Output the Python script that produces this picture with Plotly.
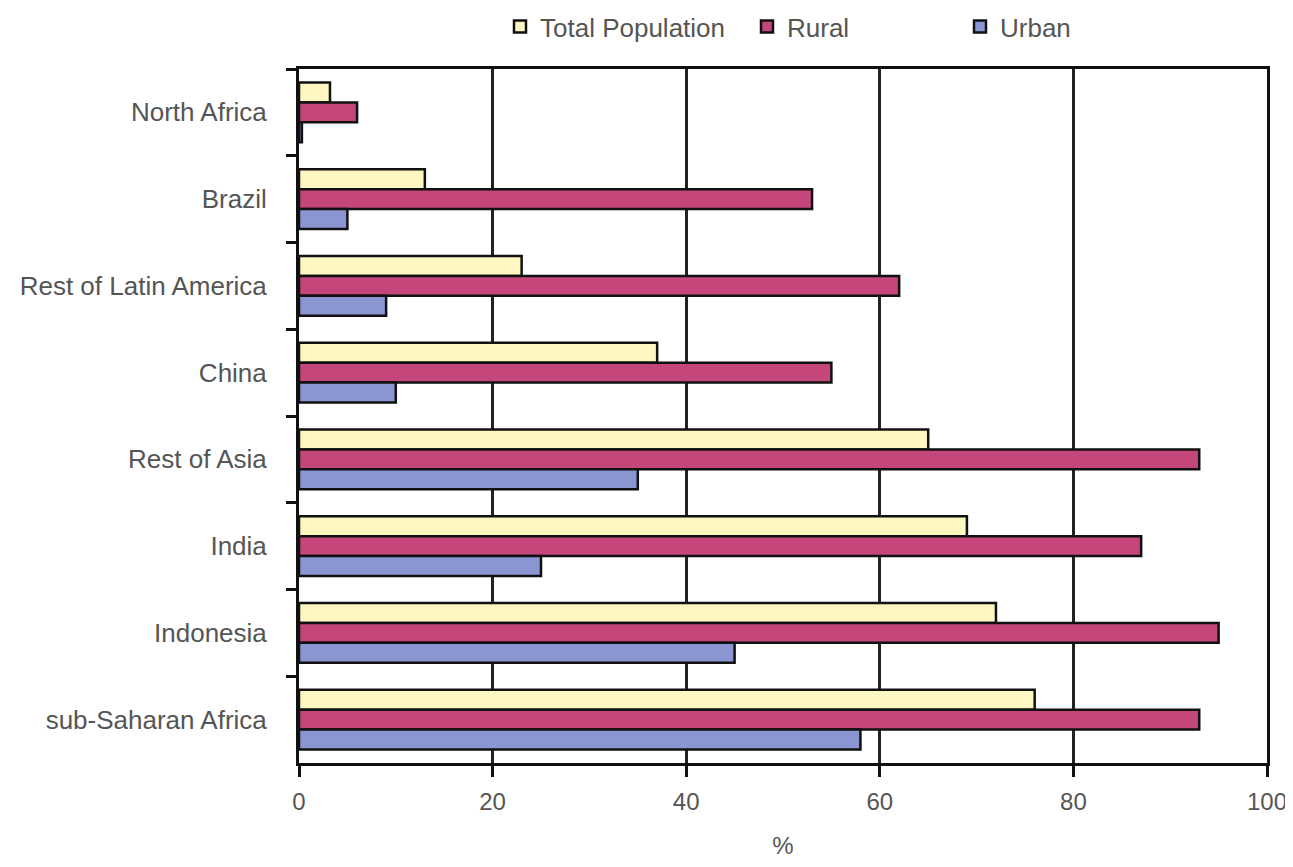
import plotly.graph_objects as go

categories = ["North Africa", "Brazil", "Rest of Latin America", "China",
              "Rest of Asia", "India", "Indonesia", "sub-Saharan Africa"]
total_population = [3.2, 13, 23, 37, 65, 69, 72, 76]
rural = [6, 53, 62, 55, 93, 87, 95, 93]
urban = [0.3, 5, 9, 10, 35, 25, 45, 58]
x_ticks = [0, 20, 40, 60, 80, 100]

series = [
    ("Total Population", total_population, "#fff7c2", "legend"),
    ("Rural", rural, "#c4467a", "legend2"),
    ("Urban", urban, "#8a95d2", "legend3"),
]

FONT = "Liberation Sans, Arial, sans-serif"
TXT = "#555555"
W = 1285

fig = go.Figure()
for name, vals, col, lg in series:
    fig.add_trace(go.Bar(
        y=categories, x=vals, name=name, orientation="h", legend=lg,
        marker=dict(color=col, line=dict(color="#111111", width=2.5)),
    ))

def leg(px_center):
    return dict(orientation="h", xref="container", yref="container",
                x=(px_center - 28) / W, y=0.978, xanchor="left", yanchor="middle",
                itemwidth=30, font=dict(family=FONT, size=26, color=TXT))

fig.update_layout(
    width=W, height=851,
    barmode="group", bargap=0.31, bargroupgap=0,
    plot_bgcolor="white", paper_bgcolor="white",
    margin=dict(l=291, r=26, t=61, b=96),
    font=dict(family=FONT, size=26, color=TXT),
    showlegend=True,
    legend=leg(520),
    legend2=leg(767),
    legend3=leg(980),
    xaxis=dict(range=[0, 100], tickvals=x_ticks, showgrid=True, automargin=False,
               gridcolor="#222222", gridwidth=2.5, zeroline=False,
               showline=True, linecolor="#111111", linewidth=3, mirror=True,
               ticks="outside", ticklen=11, tickcolor="#111111", tickwidth=2.5,
               ticklabelstandoff=4, ticklabeloverflow="allow",
               tickfont=dict(size=24),
               title=dict(text="%", standoff=31, font=dict(size=24))),
    yaxis=dict(autorange="reversed", showgrid=False, zeroline=False, automargin=False,
               showline=True, linecolor="#111111", linewidth=3, mirror=True,
               ticks="outside", tickson="boundaries", ticklen=10,
               tickcolor="#111111", tickwidth=2.5, ticklabelstandoff=24),
)

fig.write_html("out.html")
